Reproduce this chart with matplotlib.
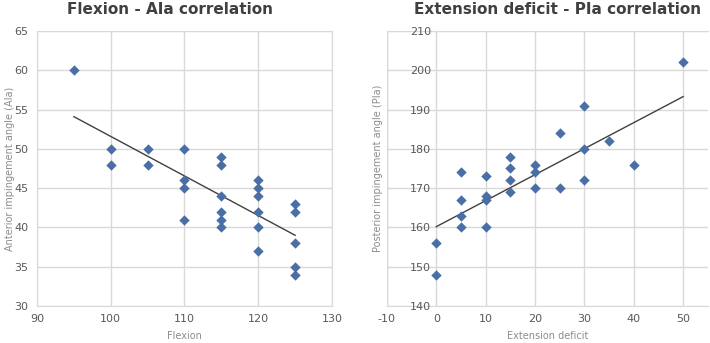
import numpy as np
import matplotlib
matplotlib.use('Agg')
import matplotlib.pyplot as plt

# Flexion vs anterior impingement angle
flexion = [95, 100, 100, 105, 105, 110, 110, 110, 110,
           115, 115, 115, 115, 115, 115,
           120, 120, 120, 120, 120, 120,
           125, 125, 125, 125, 125]
aia = [60, 50, 48, 50, 48, 50, 46, 45, 41,
       49, 48, 44, 42, 41, 40,
       46, 45, 44, 42, 40, 37,
       43, 42, 38, 35, 34]
# trendline end points
aia_trend_x = [95, 125]
aia_trend_y = [54.1, 39.0]

# Extension deficit vs posterior impingement angle
ext_deficit = [0, 0, 5, 5, 5, 5, 10, 10, 10, 10,
               15, 15, 15, 15, 20, 20, 20, 25, 25,
               30, 30, 30, 35, 40, 50]
pia = [156, 148, 174, 167, 163, 160, 173, 168, 167, 160,
       178, 175, 172, 169, 176, 174, 170, 184, 170,
       191, 180, 172, 182, 176, 202]
pia_trend_x = [0, 50]
pia_trend_y = [160.2, 193.3]

marker_col = '#4a6fa6'
grid_col = '#d9d9d9'
text_col = '#595959'
label_col = '#8c8c8c'
title_col = '#404040'

plt.rcParams['font.family'] = ['DejaVu Sans']
plt.rcParams['axes.unicode_minus'] = False


def draw_panel(ax, x, y, tx, ty, xlim, ylim, xticks, yticks, xlabel, ylabel):
    ax.scatter(x, y, marker='D', s=28, color=marker_col, zorder=3, linewidths=0)
    ax.plot(tx, ty, color='#404040', lw=1.0, zorder=2)
    ax.set_xlim(*xlim)
    ax.set_ylim(*ylim)
    ax.set_xticks(xticks)
    ax.set_yticks(yticks)
    ax.grid(True, color=grid_col, lw=1.0)
    ax.set_axisbelow(True)
    for s in ax.spines.values():
        s.set_color(grid_col)
        s.set_zorder(0.5)
    ax.spines['right'].set_visible(False)
    ax.tick_params(length=0, labelsize=8, colors=text_col, pad=6)
    ax.set_xlabel(xlabel, fontsize=7, color=label_col, labelpad=5)
    ax.set_ylabel(ylabel, fontsize=7, color=label_col)


fig = plt.figure(figsize=(7.1, 3.43), dpi=100)

ax1 = fig.add_axes([0.0521, 0.1079, 0.4155, 0.8017])
draw_panel(ax1, flexion, aia, aia_trend_x, aia_trend_y, (90, 130), (30, 65),
           [90, 100, 110, 120, 130], [30, 35, 40, 45, 50, 55, 60, 65],
           'Flexion', 'Anterior impingement angle (AIa)')
ax1.spines['right'].set_visible(True)
ax1.yaxis.set_label_coords(-0.076, 0.5)

ax2 = fig.add_axes([0.545, 0.1079, 0.452, 0.8017])
draw_panel(ax2, ext_deficit, pia, pia_trend_x, pia_trend_y, (-10, 55), (140, 210),
           [-10, 0, 10, 20, 30, 40, 50], [140, 150, 160, 170, 180, 190, 200, 210],
           'Extension deficit', 'Posterior impingement angle (PIa)')
# value axis crosses at x = 0, gridline stays at -10
ax2.spines['left'].set_position(('data', 0))
ax2.tick_params(axis='y', pad=4)
ax2.axvline(-10, color=grid_col, lw=1.0, zorder=0.5)
ax2.yaxis.set_label_coords(-0.011, 0.5)

fig.text(0.239, 0.972, 'Flexion - AIa correlation', ha='center', va='center',
         fontsize=11, fontweight='bold', color=title_col)
fig.text(0.785, 0.972, 'Extension deficit - PIa correlation', ha='center', va='center',
         fontsize=11, fontweight='bold', color=title_col)

fig.savefig('out.png', dpi=100)
